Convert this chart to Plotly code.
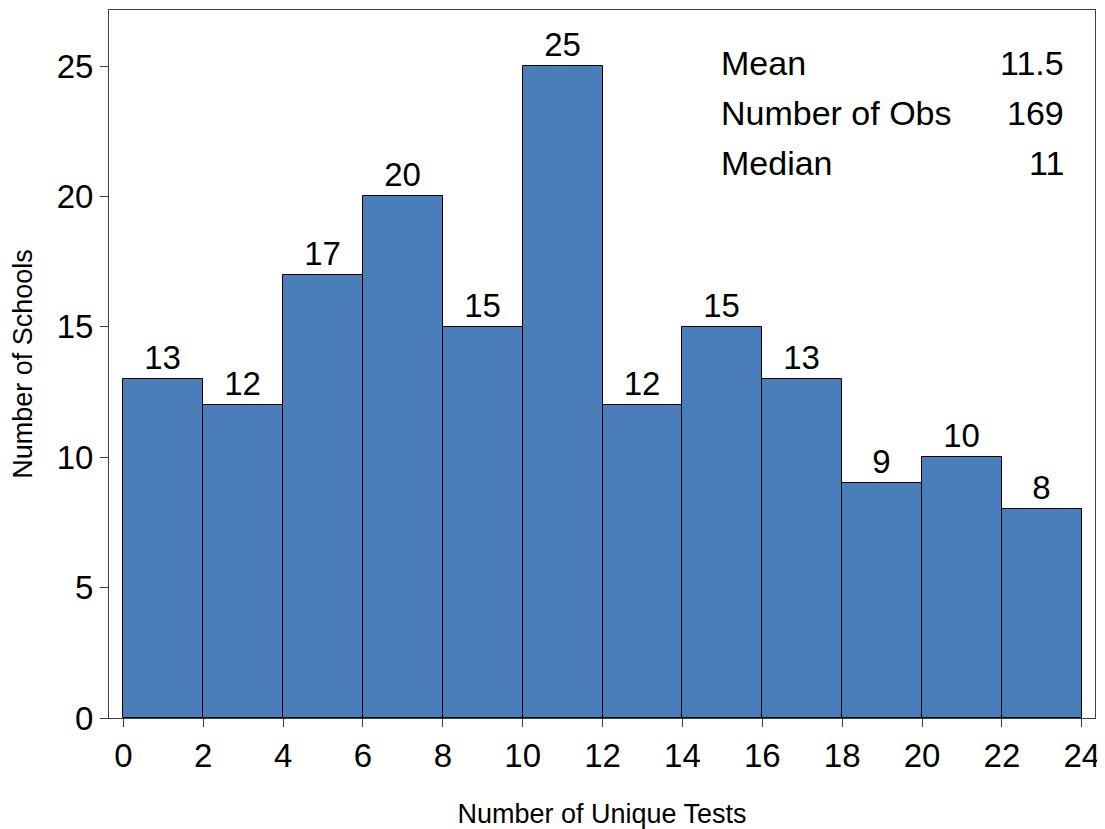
import plotly.graph_objects as go

# histogram of unique tests per school
bin_left = [0, 2, 4, 6, 8, 10, 12, 14, 16, 18, 20, 22]
bin_width = 2
counts = [13, 12, 17, 20, 15, 25, 12, 15, 13, 9, 10, 8]

stat_names = ["Mean", "Number of Obs", "Median"]
stat_values = ["11.5", "169", "11"]
stat_y = [25.1, 23.2, 21.3]

x_ticks = list(range(0, 25, 2))
y_ticks = [0, 5, 10, 15, 20, 25]

font = "Liberation Sans, Arial, sans-serif"

fig = go.Figure()
fig.add_trace(go.Bar(
    x=[b + bin_width / 2 for b in bin_left],
    y=counts,
    width=bin_width,
    marker=dict(color="#4a7ebb", line=dict(color="black", width=1)),
    text=counts,
    textposition="outside",
    textfont=dict(size=33, color="black", family=font),
    constraintext="none",
    cliponaxis=False,
    hoverinfo="x+y",
))

for name, val, y in zip(stat_names, stat_values, stat_y):
    fig.add_annotation(x=14.92, y=y, xref="x", yref="y", text=name,
                       showarrow=False, xanchor="left", yanchor="middle",
                       font=dict(size=34, color="black", family=font))
    fig.add_annotation(x=23.6, y=y, xref="x", yref="y", text=val,
                       showarrow=False, xanchor="right", yanchor="middle",
                       font=dict(size=34, color="black", family=font))

fig.update_xaxes(
    range=[-0.36, 24.33], tickvals=x_ticks, ticks="outside", ticklen=8,
    tickcolor="#404040", showline=True, linecolor="#404040", linewidth=1,
    mirror=True, showgrid=False, zeroline=False,
    tickfont=dict(size=33, color="black", family=font),
    title=dict(text="Number of Unique Tests", standoff=36,
               font=dict(size=27, color="black", family=font)),
)
fig.update_yaxes(
    range=[0, 27.15], tickvals=y_ticks, ticks="outside", ticklen=8,
    tickcolor="#404040", showline=True, linecolor="#404040", linewidth=1,
    mirror=True, showgrid=False, zeroline=False,
    tickfont=dict(size=33, color="black", family=font),
    title=dict(text="Number of Schools", standoff=20,
               font=dict(size=27, color="black", family=font)),
)

# page body adds an 8px margin, so the figure is a bit smaller than the window
fig.update_layout(
    width=1097, height=821,
    margin=dict(l=101, r=10, t=2, b=111, autoexpand=False),
    plot_bgcolor="white", paper_bgcolor="white",
    showlegend=False, bargap=0,
    font=dict(family=font),
)

fig.write_html("out.html")
